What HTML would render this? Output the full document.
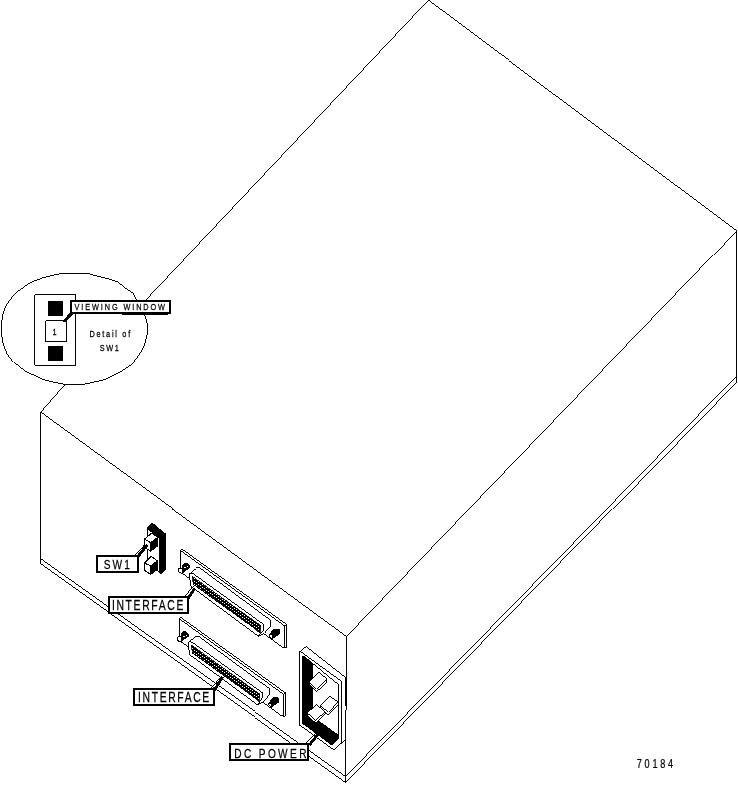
<!DOCTYPE html>
<html><head><meta charset="utf-8"><title>70184</title>
<style>
html,body{margin:0;padding:0;background:#fff;}
body{width:738px;height:785px;overflow:hidden;}
svg{display:block;}
text{font-family:"Liberation Sans",sans-serif;fill:#000;stroke:#000;stroke-width:0.25px;}
svg{will-change:transform;}
</style></head><body>
<svg width="738" height="785" viewBox="0 0 738 785" shape-rendering="crispEdges">
<defs>
<pattern id="pins" width="4" height="3" patternUnits="userSpaceOnUse"><rect width="4" height="3" fill="#000"/><rect x="0" y="0" width="1" height="1" fill="#fff"/><rect x="2" y="1.5" width="1" height="1" fill="#fff"/></pattern>
</defs>
<rect width="738" height="785" fill="#fff"/>
<line x1="428.5" y1="0.8" x2="736.5" y2="230.5" stroke="#000" stroke-width="0.99" />
<line x1="428.5" y1="0.0" x2="146.0" y2="299.8" stroke="#000" stroke-width="0.99" />
<line x1="64.8" y1="384.6" x2="40.5" y2="412.5" stroke="#000" stroke-width="0.99" />
<line x1="40.5" y1="412.5" x2="346.5" y2="636.5" stroke="#000" stroke-width="0.99" />
<line x1="346.5" y1="636.5" x2="736.5" y2="230.5" stroke="#000" stroke-width="0.99" />
<line x1="40.5" y1="412.5" x2="40.5" y2="564.2" stroke="#000" stroke-width="0.99" />
<line x1="346.5" y1="636.5" x2="345.5" y2="783.0" stroke="#000" stroke-width="0.99" />
<line x1="736.5" y1="230.5" x2="736.5" y2="381.5" stroke="#000" stroke-width="0.99" />
<line x1="40.5" y1="559.2" x2="345.5" y2="776.5" stroke="#000" stroke-width="0.99" />
<line x1="40.5" y1="564.2" x2="345.5" y2="782.5" stroke="#000" stroke-width="0.99" />
<line x1="345.5" y1="776.5" x2="736.5" y2="376.1" stroke="#000" stroke-width="0.99" />
<line x1="345.5" y1="782.5" x2="736.5" y2="381.5" stroke="#000" stroke-width="0.99" />
<polygon points="1.6,322.0 1.6,335.0 3.2,344.0 6.5,352.5 14.1,362.3 26.0,371.5 43.4,379.6 54.2,382.3 65.0,384.5 84.1,384.3 104.7,379.6 122.0,371.0 132.9,363.4 141.5,351.4 145.2,343.0 147.0,335.2 147.0,323.0 144.8,314.9 136.7,299.7 132.9,293.2 124.2,287.2 115.5,281.3 102.5,277.5 88.4,273.6 59.6,273.8 43.4,277.6 30.4,282.5 15.2,293.3 6.5,304.7 3.2,313.0" fill="none" stroke="#000" stroke-width="0.99" />
<polygon points="34.5,294.5 75.5,294.5 75.5,365.2 34.5,365.2" fill="none" stroke="#000" stroke-width="0.99" />
<rect x="48" y="301" width="15" height="14.5" fill="#000"/>
<rect x="48" y="346" width="15" height="14.5" fill="#000"/>
<polygon points="45.5,320.5 66.5,320.5 66.5,341.5 45.5,341.5" fill="#fff" stroke="#000" stroke-width="0.99" />
<text transform="translate(54.6,335.2) scale(0.78,1)" font-size="9.4" text-anchor="middle" >1</text>
<text transform="translate(89.5,336.8) scale(0.78,1)" font-size="9.4" text-anchor="start" textLength="52.2" lengthAdjust="spacing" >Detail of</text>
<text transform="translate(99.8,350.9) scale(0.78,1)" font-size="9.4" text-anchor="start" textLength="24.4" lengthAdjust="spacing" >SW1</text>
<text transform="translate(636.8,767.9) scale(0.7,1)" font-size="13" text-anchor="start" textLength="51.9" lengthAdjust="spacing" >70184</text>
<polygon points="147.1,528.3 152.2,523.1 165.8,534.2 165.8,568.6 160.5,573.7 157.0,570.5 147.1,562.0" fill="#000" stroke="#000" stroke-width="0.99" />
<polygon points="148.1,529.7 159.3,538.3 159.3,571.4 157.0,569.4 148.1,562.0" fill="#fff" stroke="none" stroke-width="0.99" />
<polygon points="144.3,539.3 150.6,542.5 150.6,551.2 144.3,547.2" fill="#fff" stroke="#000" stroke-width="1.01" />
<polygon points="144.3,539.3 151.8,533.0 157.8,537.4 150.6,542.5" fill="#fff" stroke="#000" stroke-width="1.01" />
<polygon points="150.6,542.5 157.8,537.4 157.8,545.7 150.6,551.2" fill="#000" stroke="#000" stroke-width="1.01" />
<polygon points="144.3,563.1 150.6,565.8 150.6,574.5 144.3,570.2" fill="#fff" stroke="#000" stroke-width="1.01" />
<polygon points="144.3,563.1 151.4,556.3 157.4,561.1 150.6,565.8" fill="#fff" stroke="#000" stroke-width="1.01" />
<polygon points="150.6,565.8 157.4,561.1 157.4,569.0 150.6,574.5" fill="#000" stroke="#000" stroke-width="1.01" />
<polygon points="180.2,550.2 284.6,625.9 284.6,648.0 282.5,647.4 182.8,573.6 180.2,571.5" fill="#fff" stroke="#000" stroke-width="0.99" />
<polyline points="180.2,550.2 182.1,549.1 286.5,624.4 286.5,647.2 284.6,648.0" fill="none" stroke="#000" stroke-width="0.99" />
<line x1="284.6" y1="625.9" x2="286.5" y2="624.4" stroke="#000" stroke-width="0.99" />
<polygon points="189.5,573.0 196.3,567.6 199.6,567.8 269.7,619.6 270.9,620.6 270.9,625.6 264.4,633.3 258.3,636.2 195.6,589.8 191.2,586.8 190.2,583.0" fill="#fff" stroke="#000" stroke-width="0.99" />
<polyline points="189.8,573.3 193.0,573.6 263.6,624.4 263.6,628.5 262.0,631.7 258.3,636.2" fill="none" stroke="#000" stroke-width="0.99" />
<polygon points="192.2,576.3 261.0,625.8 260.0,633.0 193.5,585.0" fill="url(#pins)" stroke="#000" stroke-width="0.8" />
<polygon points="182.8,564.5 185.2,563.0 186.8,563.3 189.9,566.4 189.9,567.4 187.0,569.7 185.4,570.3 183.4,572.6 182.3,571.3 182.1,566.7" fill="#000" stroke="#000" stroke-width="0.99" />
<polygon points="179.2,568.2 182.3,568.2 182.8,572.0 182.8,573.6 179.5,572.6 178.1,570.5" fill="#fff" stroke="#000" stroke-width="1.01" />
<rect x="183.6" y="567.0" width="1" height="1" fill="#fff"/><rect x="185.4" y="567.0" width="1" height="1" fill="#fff"/><rect x="187.4" y="566.0" width="1" height="1" fill="#fff"/>
<polygon points="269.2,634.7 274.1,629.0 278.7,629.0 279.8,630.2 279.8,633.6 273.4,637.9" fill="#000" stroke="#000" stroke-width="0.99" />
<polygon points="268.8,635.1 272.0,634.5 273.0,638.3 272.2,639.3" fill="#fff" stroke="#000" stroke-width="0.99" />
<polygon points="179.2,618.7 283.6,694.4 283.6,716.5 281.5,715.9 181.8,642.1 179.2,640.0" fill="#fff" stroke="#000" stroke-width="0.99" />
<polyline points="179.2,618.7 181.1,617.6 285.5,692.9 285.5,715.7 283.6,716.5" fill="none" stroke="#000" stroke-width="0.99" />
<line x1="283.6" y1="694.4" x2="285.5" y2="692.9" stroke="#000" stroke-width="0.99" />
<polygon points="188.5,641.5 195.3,636.1 198.6,636.3 268.7,688.1 269.9,689.1 269.9,694.1 263.4,701.8 257.3,704.7 194.6,658.3 190.2,655.3 189.2,651.5" fill="#fff" stroke="#000" stroke-width="0.99" />
<polyline points="188.8,641.8 192.0,642.1 262.6,692.9 262.6,697.0 261.0,700.2 257.3,704.7" fill="none" stroke="#000" stroke-width="0.99" />
<polygon points="191.2,644.8 260.0,694.3 259.0,701.5 192.5,653.5" fill="url(#pins)" stroke="#000" stroke-width="0.8" />
<polygon points="181.8,633.0 184.2,631.5 185.8,631.8 188.9,634.9 188.9,635.9 186.0,638.2 184.4,638.8 182.4,641.1 181.3,639.8 181.1,635.2" fill="#000" stroke="#000" stroke-width="0.99" />
<polygon points="178.2,636.7 181.3,636.7 181.8,640.5 181.8,642.1 178.5,641.1 177.1,639.0" fill="#fff" stroke="#000" stroke-width="1.01" />
<rect x="182.6" y="635.5" width="1" height="1" fill="#fff"/><rect x="184.4" y="635.5" width="1" height="1" fill="#fff"/><rect x="186.4" y="634.5" width="1" height="1" fill="#fff"/>
<polygon points="268.2,703.2 273.1,697.5 277.7,697.5 278.8,698.7 278.8,702.1 272.4,706.4" fill="#000" stroke="#000" stroke-width="0.99" />
<polygon points="267.8,703.6 271.0,703.0 272.0,706.8 271.2,707.8" fill="#fff" stroke="#000" stroke-width="0.99" />
<polygon points="299.2,651.2 305.7,646.2 345.0,677.1 345.0,740.0 333.2,750.2 299.2,725.6" fill="#fff" stroke="none" stroke-width="0.99" />
<polyline points="345.8,677.7 305.7,646.2 299.5,651.2 299.5,725.6 333.2,750.2 345.3,739.8" fill="none" stroke="#000" stroke-width="0.99" />
<line x1="346.0" y1="677.5" x2="346.0" y2="706.4" stroke="#000" stroke-width="2" />
<polyline points="300.2,651.3 341.5,681.3 341.5,742.5" fill="none" stroke="#000" stroke-width="0.99" />
<polygon points="302.4,656.6 303.8,656.1 338.5,684.6 338.5,738.4 331.7,745.0 302.4,723.2" fill="#fff" stroke="#000" stroke-width="0.99" />
<polygon points="302.4,656.6 303.8,656.1 313.2,663.7 313.2,717.0 318.5,720.4 337.4,734.1 338.5,734.6 338.5,738.4 331.7,745.0 302.4,723.2" fill="#000" stroke="none" stroke-width="0.99" />
<polygon points="309.0,681.7 318.5,672.3 326.5,679.8 326.5,682.3 316.6,691.8 309.0,684.2" fill="#fff" stroke="#000" stroke-width="0.99" />
<polygon points="309.0,681.7 318.5,672.3 326.5,679.8 316.6,689.3" fill="#fff" stroke="#000" stroke-width="0.99" />
<polygon points="320.4,705.7 329.4,696.2 338.4,701.9 338.4,704.4 328.4,714.8 320.4,708.2" fill="#fff" stroke="#000" stroke-width="0.99" />
<polygon points="320.4,705.7 329.4,696.2 338.4,701.9 328.4,712.3" fill="#fff" stroke="#000" stroke-width="0.99" />
<polygon points="307.1,712.8 316.6,704.7 325.1,711.8 325.1,714.3 315.6,722.9 307.1,715.3" fill="#fff" stroke="#000" stroke-width="0.99" />
<polygon points="307.1,712.8 316.6,704.7 325.1,711.8 315.6,720.4" fill="#fff" stroke="#000" stroke-width="0.99" />
<line x1="70.6" y1="312.0" x2="63.6" y2="321.0" stroke="#000" stroke-width="0.99" />
<line x1="72.0" y1="313.0" x2="64.0" y2="322.0" stroke="#000" stroke-width="2.9" />
<rect x="71.0" y="301.0" width="99.0" height="12.0" fill="#fff" stroke="#000" stroke-width="2"/>
<line x1="121.5" y1="314.5" x2="167.8" y2="314.5" stroke="#000" stroke-width="0.99" />
<text transform="translate(74.6,310.0) scale(0.78,1)" font-size="9.4" text-anchor="start" textLength="115.9" lengthAdjust="spacing" >VIEWING WINDOW</text>
<line x1="134.7" y1="555.5" x2="145.5" y2="543.8" stroke="#000" stroke-width="0.99" />
<line x1="138.1" y1="556.3" x2="147.2" y2="544.9" stroke="#000" stroke-width="2.9" />
<rect x="97.1" y="555.9" width="40.7" height="15.9" fill="#fff" stroke="#000" stroke-width="2"/>
<text transform="translate(103.8,568.7) scale(0.75,1)" font-size="13.5" text-anchor="start" textLength="34.7" lengthAdjust="spacing" >SW1</text>
<line x1="184.7" y1="596.5" x2="193.5" y2="586.1" stroke="#000" stroke-width="0.99" />
<line x1="188.1" y1="598.3" x2="194.9" y2="588.1" stroke="#000" stroke-width="2.9" />
<rect x="108.5" y="597.0" width="79.3" height="15.6" fill="#fff" stroke="#000" stroke-width="2"/>
<text transform="translate(111.9,609.8) scale(0.75,1)" font-size="13.8" text-anchor="start" textLength="95.2" lengthAdjust="spacing" >INTERFACE</text>
<line x1="210.7" y1="688.6" x2="220.4" y2="677.7" stroke="#000" stroke-width="0.99" />
<line x1="214.4" y1="690.3" x2="222.6" y2="676.9" stroke="#000" stroke-width="2.9" />
<rect x="134.2" y="689.1" width="80.0" height="15.4" fill="#fff" stroke="#000" stroke-width="2"/>
<text transform="translate(138.1,701.5) scale(0.75,1)" font-size="13.8" text-anchor="start" textLength="94.8" lengthAdjust="spacing" >INTERFACE</text>
<line x1="305.0" y1="743.7" x2="315.4" y2="733.2" stroke="#000" stroke-width="0.99" />
<line x1="309.4" y1="745.1" x2="317.6" y2="734.7" stroke="#000" stroke-width="2.9" />
<rect x="230.2" y="744.2" width="78.2" height="15.3" fill="#fff" stroke="#000" stroke-width="2"/>
<text transform="translate(234.2,758.1) scale(0.75,1)" font-size="13.5" text-anchor="start" textLength="96.4" lengthAdjust="spacing" >DC POWER</text>
</svg>
</body></html>
